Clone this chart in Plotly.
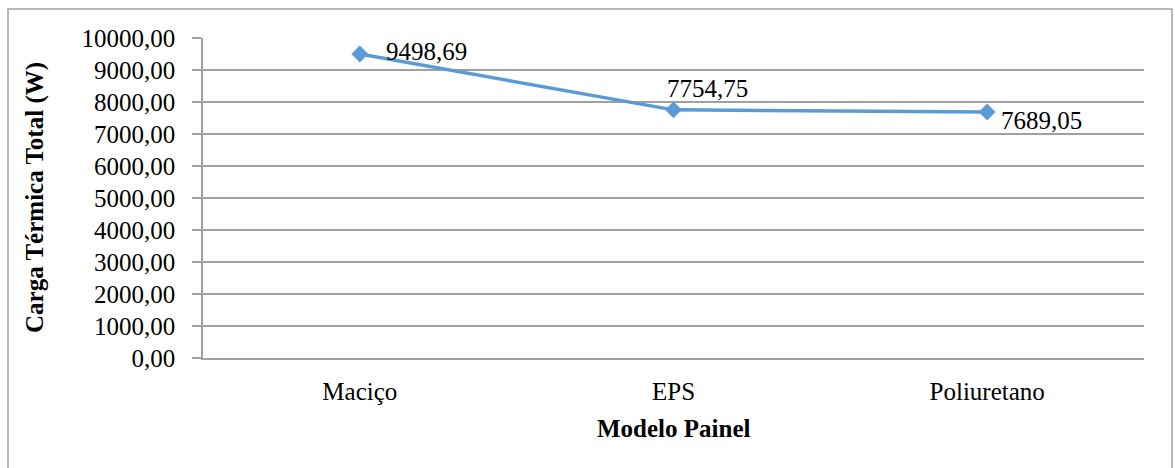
import plotly.graph_objects as go

categories = ["Maciço", "EPS", "Poliuretano"]
values = [9498.69, 7754.75, 7689.05]
y_ticks = list(range(0, 10001, 1000))
y_tick_labels = [f"{v:.2f}".replace(".", ",") for v in y_ticks]
value_labels = [f"{v:.2f}".replace(".", ",") for v in values]

FONT = "Liberation Serif, Times New Roman, serif"
GRAY = "#a0a0a0"
BLUE = "#5b9bd5"

W, H = 1175, 468
L, R, T, B = 203, 31, 38, 110
pw, ph = W - L - R, H - T - B

def px2x(px):
    return (px - L) / pw

def py2y(py):
    return (H - B - py) / ph

fig = go.Figure()
fig.add_trace(go.Scatter(
    x=categories, y=values, mode="lines+markers",
    line=dict(color=BLUE, width=3.5),
    marker=dict(symbol="diamond", size=13, color=BLUE),
    hoverinfo="skip", showlegend=False,
))

shifts = [(24, 3, "left"), (34, 21, "center"), (12, -9, "left")]
for c, v, t, (xs, ys, anc) in zip(categories, values, value_labels, shifts):
    fig.add_annotation(x=c, y=v, text=t, showarrow=False, xanchor=anc,
                       yanchor="middle", xshift=xs, yshift=ys,
                       font=dict(family=FONT, size=25, color="black"))

fig.add_annotation(xref="paper", yref="paper", x=px2x(35), y=0.5,
                   text="<b>Carga Térmica Total (W)</b>", textangle=-90,
                   showarrow=False, xanchor="center", yanchor="middle",
                   font=dict(family=FONT, size=25, color="black"))
fig.add_annotation(xref="paper", yref="paper", x=0.5, y=py2y(428),
                   text="<b>Modelo Painel</b>", showarrow=False,
                   xanchor="center", yanchor="middle",
                   font=dict(family=FONT, size=25, color="black"))

fig.add_shape(type="rect", xref="paper", yref="paper",
              x0=px2x(8), x1=px2x(1172), y0=py2y(475), y1=py2y(9),
              line=dict(color=GRAY, width=1.5), layer="below")

fig.update_layout(
    width=W, height=H,
    margin=dict(l=L, r=R, t=T, b=B, pad=0),
    paper_bgcolor="white", plot_bgcolor="white",
    font=dict(family=FONT, size=25, color="black"),
    xaxis=dict(type="category", range=[-0.5, 2.5], showline=True,
               linecolor=GRAY, linewidth=1.5, showgrid=False, ticks="",
               ticklabelstandoff=10, tickfont=dict(size=25), fixedrange=True),
    yaxis=dict(range=[0, 10000], tickvals=y_ticks, ticktext=y_tick_labels,
               showline=True, linecolor=GRAY, linewidth=1.5,
               showgrid=True, gridcolor=GRAY, gridwidth=1.5,
               ticks="outside", ticklen=9, tickcolor=GRAY, tickwidth=1.5,
               ticklabelstandoff=12, tickfont=dict(size=25), zeroline=False,
               fixedrange=True),
)

fig.write_html("out.html")
